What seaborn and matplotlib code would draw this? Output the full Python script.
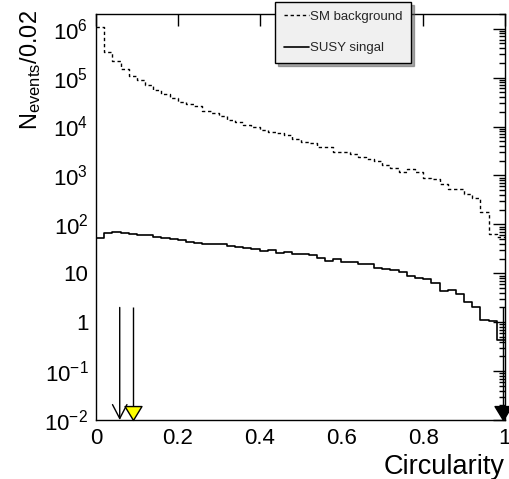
import numpy as np
import pandas as pd
import matplotlib
matplotlib.use("Agg")
import matplotlib.pyplot as plt
import matplotlib.transforms as mtransforms
from matplotlib.path import Path
from matplotlib.lines import Line2D
from matplotlib.ticker import FixedLocator, FixedFormatter, LogLocator, NullLocator, NullFormatter
import seaborn as sns

# ---------------- data ----------------
n_bins = 50
x_range = (0.0, 1.0)
background = [1.08e6, 3.34e5, 2.18e5, 1.47e5, 1.08e5, 8.9e4, 7.0e4, 5.6e4, 4.7e4, 3.9e4,
              3.2e4, 2.92e4, 2.66e4, 2.1e4, 1.85e4, 1.61e4, 1.37e4, 1.23e4, 1.10e4, 9.9e3,
              8.5e3, 7.9e3, 7.35e3, 6.6e3, 5.5e3, 4.9e3, 4.7e3, 3.8e3, 3.8e3, 3.0e3,
              3.0e3, 2.77e3, 2.44e3, 2.22e3, 1.99e3, 1.65e3, 1.45e3, 1.20e3, 1.35e3, 1.15e3,
              881, 853, 675, 525, 525, 421, 344, 183, 64, 55]
signal = [52, 66, 69, 68, 64, 62, 61, 55, 52, 50,
          48, 44.5, 42.5, 40, 40, 40, 36.8, 35.1, 33.5, 31.5,
          29.1, 30.1, 25.8, 27.8, 24.5, 24.5, 23.8, 20.3, 17.9, 19.7,
          17.3, 17.3, 15.6, 15.3, 12.7, 12.3, 11.4, 10.8, 8.8, 7.9,
          7.6, 6.3, 4.4, 4.6, 3.8, 2.6, 2.0, 1.1, 1.08, 0.43]
series_labels = ["SM background", "SUSY singal"]
cut_open_arrow_x = [0.058]
cut_yellow_arrow_x = [0.09]
cut_black_arrow_x = [0.995]
arrow_top = 2.0
y_ticks = [1e-2, 1e-1, 1, 10, 1e2, 1e3, 1e4, 1e5, 1e6]
y_tick_labels = ["$10^{-2}$", "$10^{-1}$", "1", "10", "$10^{2}$", "$10^{3}$",
                 "$10^{4}$", "$10^{5}$", "$10^{6}$"]
x_ticks = [0, 0.2, 0.4, 0.6, 0.8, 1.0]
x_tick_labels = ["0", "0.2", "0.4", "0.6", "0.8", "1"]
y_limits = (1e-2, 2.0e6)

bin_w = (x_range[1] - x_range[0]) / n_bins
centers = x_range[0] + bin_w * (np.arange(n_bins) + 0.5)
df = pd.DataFrame({"circ": centers, "bkg": background, "sig": signal})

# ---------------- style ----------------
sns.set_theme(style="white")
plt.rcParams["font.family"] = ["Liberation Sans", "DejaVu Sans"]
plt.rcParams["mathtext.fontset"] = "custom"
plt.rcParams["mathtext.rm"] = "Liberation Sans"
plt.rcParams["mathtext.it"] = "Liberation Sans:italic"
plt.rcParams["mathtext.bf"] = "Liberation Sans:bold"

fig = plt.figure(figsize=(5.09, 4.79), dpi=100)
ax = fig.add_axes([96 / 509, 1 - 420 / 479, 409 / 509, 406 / 479])
ax.set_facecolor("white")

sns.histplot(data=df, x="circ", weights="bkg", bins=n_bins, binrange=x_range,
             element="step", fill=False, color="black", linewidth=1.0,
             linestyle=(0, (2.4, 2.0)), ax=ax)
sns.histplot(data=df, x="circ", weights="sig", bins=n_bins, binrange=x_range,
             element="step", fill=False, color="black", linewidth=1.2, ax=ax)

ax.set_yscale("log")
ax.set_xlim(*x_range)
ax.set_ylim(*y_limits)

# cut arrows
ax.vlines(cut_yellow_arrow_x + cut_black_arrow_x, y_limits[0], arrow_top,
          color="black", linewidth=1.0, clip_on=False)
for xc in cut_open_arrow_x:
    ax.annotate("", xy=(xc, y_limits[0]), xytext=(xc, arrow_top),
                arrowprops=dict(arrowstyle="->,head_length=0.5,head_width=0.26",
                                lw=1.0, color="black", shrinkA=0, shrinkB=0,
                                mutation_scale=20))
tri = Path([(-1, 0.82), (1, 0.82), (0, -0.82), (-1, 0.82)],
           [Path.MOVETO, Path.LINETO, Path.LINETO, Path.CLOSEPOLY])
trans = mtransforms.offset_copy(ax.transData, fig=fig, x=0, y=7, units="dots")
ax.plot(cut_yellow_arrow_x, [y_limits[0]] * len(cut_yellow_arrow_x), linestyle="none",
        marker=tri, markersize=12.2, markerfacecolor="yellow", markeredgecolor="black",
        markeredgewidth=1.0, transform=trans, clip_on=False, zorder=5)
ax.plot(cut_black_arrow_x, [y_limits[0]] * len(cut_black_arrow_x), linestyle="none",
        marker=tri, markersize=12.2, markerfacecolor="black", markeredgecolor="black",
        markeredgewidth=1.0, transform=trans, clip_on=False, zorder=5)

# axes styling (ROOT-like)
for s in ax.spines.values():
    s.set_visible(True)
    s.set_color("black")
    s.set_linewidth(1.0)
ax.xaxis.set_major_locator(FixedLocator(x_ticks))
ax.xaxis.set_major_formatter(FixedFormatter(x_tick_labels))
ax.xaxis.set_minor_locator(NullLocator())
ax.yaxis.set_major_locator(FixedLocator(y_ticks))
ax.yaxis.set_major_formatter(FixedFormatter(y_tick_labels))
ax.yaxis.set_minor_locator(LogLocator(base=10, subs=np.arange(2, 10), numticks=30))
ax.yaxis.set_minor_formatter(NullFormatter())
ax.tick_params(which="both", direction="in", top=True, right=True, color="black",
               labelcolor="black")
ax.tick_params(which="major", length=8.6, width=1.0, labelsize=16, pad=5.5)
ax.tick_params(which="minor", length=4.3, width=1.0)

ax.set_xlabel("Circularity", fontsize=19.5, loc="right", color="black", labelpad=4)
ax.set_ylabel("N$_{\\rm events}$/0.02", fontsize=17, loc="top", color="black", labelpad=1)
ax.yaxis.label.set_y(1.01)

handles = [Line2D([], [], color="black", linewidth=1.0, linestyle=(0, (2.4, 2.0))),
           Line2D([], [], color="black", linewidth=1.2)]
leg = fig.legend(handles, series_labels, loc="upper left",
                 bbox_to_anchor=(275 / 509, 1 - 2 / 479),
                 fontsize=9.5, frameon=True, fancybox=False, shadow={"color": "#555555"},
                 handlelength=1.9, handletextpad=0.1, labelspacing=1.45,
                 borderpad=0.65, borderaxespad=0)
leg.get_frame().set_facecolor("#f0f0f0")
leg.get_frame().set_edgecolor("black")
leg.get_frame().set_linewidth(1.0)
leg.get_frame().set_alpha(1.0)

fig.savefig("out.png", dpi=100)
